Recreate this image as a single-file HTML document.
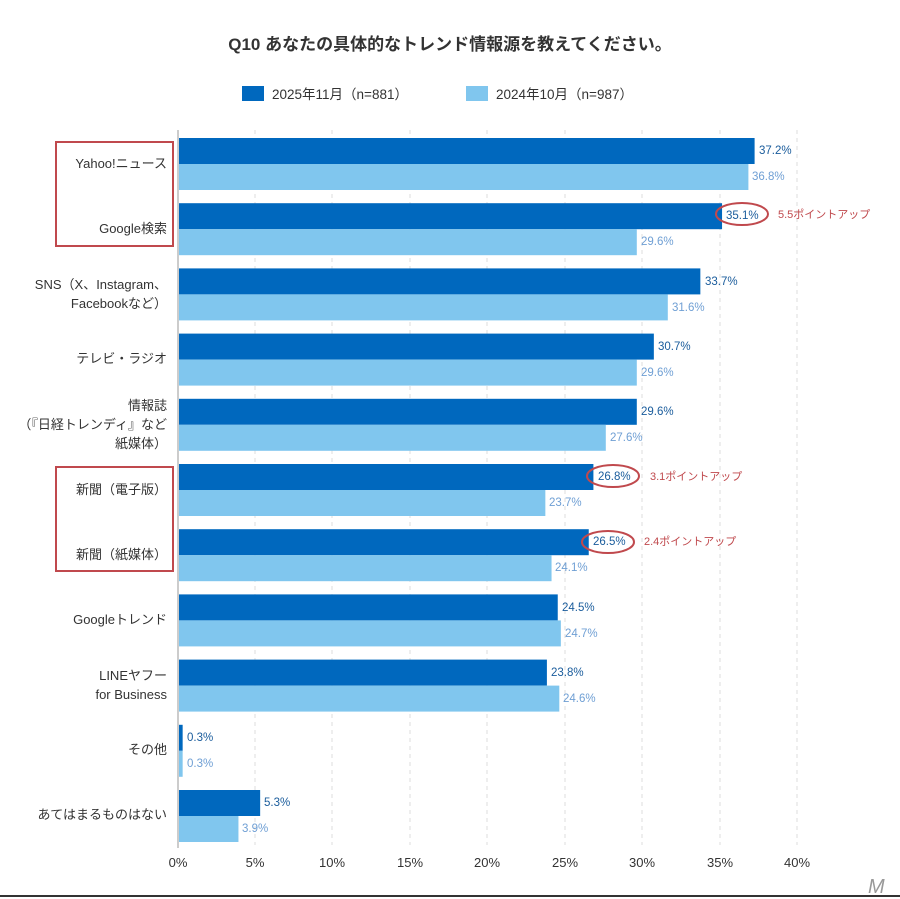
<!DOCTYPE html>
<html><head><meta charset="utf-8"><style>
body{margin:0;background:#fff;}
svg{display:block;font-family:"Liberation Sans","Noto Sans CJK JP",sans-serif;}
</style></head><body>
<svg width="900" height="899" viewBox="0 0 900 899" xmlns="http://www.w3.org/2000/svg">
<rect width="900" height="899" fill="#fff"/>
<text x="450" y="50" text-anchor="middle" font-size="17" font-weight="bold" fill="#333">Q10 あなたの具体的なトレンド情報源を教えてください。</text>
<rect x="242" y="86" width="22" height="15" fill="#0068be"/>
<text x="272" y="99" font-size="13.5" fill="#333">2025年11月（n=881）</text>
<rect x="466" y="86" width="22" height="15" fill="#80c6ee"/>
<text x="496" y="99" font-size="13.5" fill="#333">2024年10月（n=987）</text>
<g stroke="#ddd" stroke-dasharray="4,4" stroke-width="1">
<line x1="255" y1="130" x2="255" y2="845"/><line x1="332" y1="130" x2="332" y2="845"/>
<line x1="410" y1="130" x2="410" y2="845"/><line x1="487" y1="130" x2="487" y2="845"/>
<line x1="565" y1="130" x2="565" y2="845"/><line x1="642" y1="130" x2="642" y2="845"/>
<line x1="720" y1="130" x2="720" y2="845"/><line x1="797" y1="130" x2="797" y2="845"/>
</g>
<g font-size="13" fill="#333" text-anchor="middle">
<text x="178" y="867">0%</text><text x="255" y="867">5%</text><text x="332" y="867">10%</text><text x="410" y="867">15%</text><text x="487" y="867">20%</text><text x="565" y="867">25%</text><text x="642" y="867">30%</text><text x="720" y="867">35%</text><text x="797" y="867">40%</text>
</g>
<g fill="#0068be">
<rect x="178" y="138" width="576.6" height="26"/>
<rect x="178" y="203.2" width="544.05" height="26"/>
<rect x="178" y="268.4" width="522.35" height="26"/>
<rect x="178" y="333.6" width="475.85" height="26"/>
<rect x="178" y="398.8" width="458.8" height="26"/>
<rect x="178" y="464" width="415.4" height="26"/>
<rect x="178" y="529.2" width="410.75" height="26"/>
<rect x="178" y="594.4" width="379.75" height="26"/>
<rect x="178" y="659.6" width="368.9" height="26"/>
<rect x="178" y="724.8" width="4.65" height="26"/>
<rect x="178" y="790" width="82.15" height="26"/>
</g>
<g fill="#80c6ee">
<rect x="178" y="164" width="570.4" height="26"/>
<rect x="178" y="229.2" width="458.8" height="26"/>
<rect x="178" y="294.4" width="489.8" height="26"/>
<rect x="178" y="359.6" width="458.8" height="26"/>
<rect x="178" y="424.8" width="427.8" height="26"/>
<rect x="178" y="490" width="367.35" height="26"/>
<rect x="178" y="555.2" width="373.55" height="26"/>
<rect x="178" y="620.4" width="382.85" height="26"/>
<rect x="178" y="685.6" width="381.3" height="26"/>
<rect x="178" y="750.8" width="4.65" height="26"/>
<rect x="178" y="816" width="60.45" height="26"/>
</g>
<g font-size="11.5" fill="#1a5c9c">
<text x="759" y="154">37.2%</text>
<text x="726" y="219">35.1%</text>
<text x="705" y="285">33.7%</text>
<text x="658" y="350">30.7%</text>
<text x="641" y="415">29.6%</text>
<text x="598" y="480">26.8%</text>
<text x="593" y="545">26.5%</text>
<text x="562" y="611">24.5%</text>
<text x="551" y="676">23.8%</text>
<text x="187" y="741">0.3%</text>
<text x="264" y="806">5.3%</text>
</g>
<g font-size="11.5" fill="#6f9fd4">
<text x="752" y="180">36.8%</text>
<text x="641" y="245">29.6%</text>
<text x="672" y="311">31.6%</text>
<text x="641" y="376">29.6%</text>
<text x="610" y="441">27.6%</text>
<text x="549" y="506">23.7%</text>
<text x="555" y="571">24.1%</text>
<text x="565" y="637">24.7%</text>
<text x="563" y="702">24.6%</text>
<text x="187" y="767">0.3%</text>
<text x="242" y="832">3.9%</text>
</g>
<line x1="178" y1="130" x2="178" y2="848" stroke="#ccc" stroke-width="2"/>
<g font-size="13" fill="#333" text-anchor="end">
<text x="167" y="168">Yahoo!ニュース</text>
<text x="167" y="233">Google検索</text>
<text x="167" y="289">SNS（X、Instagram、</text><text x="167" y="308">Facebookなど）</text>
<text x="167" y="363">テレビ・ラジオ</text>
<text x="167" y="410">情報誌</text><text x="167" y="429">（『日経トレンディ』など</text><text x="167" y="448">紙媒体）</text>
<text x="167" y="494">新聞（電子版）</text>
<text x="167" y="559">新聞（紙媒体）</text>
<text x="167" y="624">Googleトレンド</text>
<text x="167" y="680">LINEヤフー</text><text x="167" y="699">for Business</text>
<text x="167" y="754">その他</text>
<text x="167" y="819">あてはまるものはない</text>
</g>
<g fill="none" stroke="#c0494d" stroke-width="2">
<rect x="56" y="142" width="117" height="104"/>
<rect x="56" y="467" width="117" height="104"/>
<ellipse cx="742" cy="214" rx="26" ry="11"/>
<ellipse cx="613" cy="476" rx="26" ry="11"/>
<ellipse cx="608" cy="542" rx="26" ry="11"/>
</g>
<g font-size="11" fill="#c0494d">
<text x="778" y="218">5.5ポイントアップ</text>
<text x="650" y="480">3.1ポイントアップ</text>
<text x="644" y="545">2.4ポイントアップ</text>
</g>
<line x1="0" y1="896" x2="900" y2="896" stroke="#333" stroke-width="2"/>
<text x="868" y="893" font-size="20" font-style="italic" fill="#999">M</text>
</svg>
</body></html>
